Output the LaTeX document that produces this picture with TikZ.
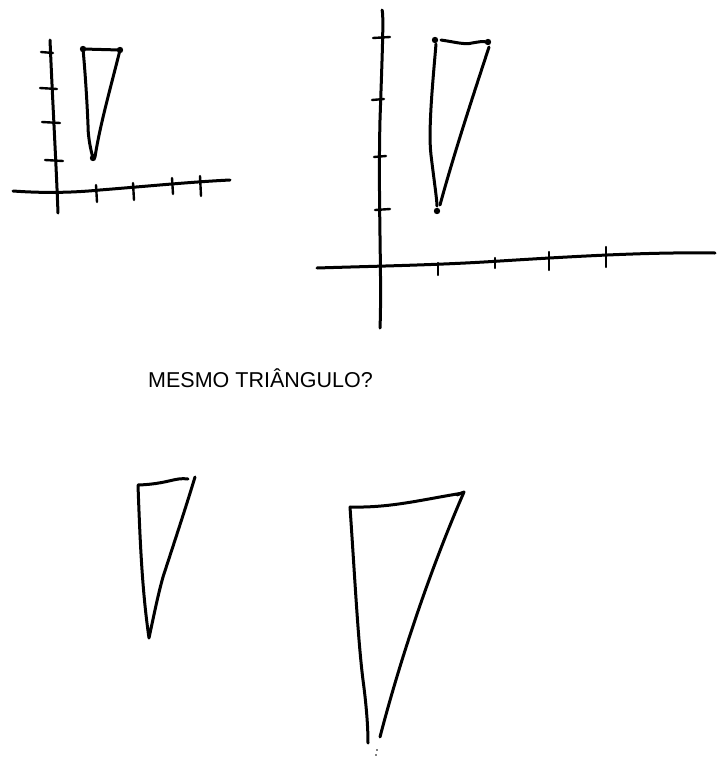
\documentclass[tikz,border=0pt]{standalone}
\usepackage{fontspec}
\setmainfont{Liberation Sans}
\begin{document}
\begin{tikzpicture}[x=1pt,y=-1pt,
  ink/.style={line width=3pt,line cap=round,line join=round},
  thin ink/.style={line width=2.4pt,line cap=round,line join=round},
  vdot/.style={fill=black,radius=3.2pt}]
\useasboundingbox (0,0) rectangle (728,766);
% ---------- small axes ----------
\draw[ink] (50,40) .. controls (53,110) and (56,160) .. (58,213);
\draw[ink] (13,191) .. controls (40,193) and (70,193) .. (100,190) .. controls (150,186) and (190,182) .. (230,180);
\foreach \y/\a/\b in {52/41/53, 88/40/57, 122/42/60, 160/45/63}
  \draw[thin ink] (\a,\y) -- (\b,\y+1);
\foreach \x/\a/\b in {96/185/202, 133/183/200, 172/178/194, 200/176/196}
  \draw[thin ink] (\x,\a) -- (\x+1,\b);
% small triangle
\draw[ink] (83,49) -- (120,50) .. controls (110,90) and (100,125) .. (95,157) -- (93,158)
  .. controls (88,140) and (88,128) .. (88,125) .. controls (87,100) and (85,70) .. (83,49);
\fill[vdot] (83,49) circle;
\fill[vdot] (120,50) circle;
\fill[vdot] (93,158) circle;
% ---------- large axes ----------
\draw[ink] (382,10) .. controls (384,14) and (382,60) .. (380,120) .. controls (378,200) and (382,280) .. (380,328);
\draw[ink] (317,268) .. controls (380,266) and (440,265) .. (500,261) .. controls (580,256) and (650,252) .. (715,253);
\foreach \y/\a/\b in {38/373/390, 100/372/384, 157/374/386, 210/375/390}
  \draw[thin ink] (\a,\y) -- (\b,\y-1);
\foreach \x/\a/\b in {438/263/275, 495/258/268, 549/252/270, 606/247/267}
  \draw[thin ink] (\x,\a) -- (\x,\b);
% large triangle
\draw[ink] (441,40) .. controls (455,42) and (465,45) .. (472,43) .. controls (478,42) and (482,41) .. (487,42);
\draw[ink] (489,47) .. controls (475,90) and (455,150) .. (440,205);
\draw[ink] (436,44) .. controls (433,80) and (428,130) .. (431,155) .. controls (434,180) and (437,200) .. (437,206);
\fill[vdot] (435,40) circle;
\fill[vdot] (488,42) circle;
\fill[vdot] (437,211) circle;
% ---------- question ----------
\node[font=\fontsize{21.5}{25}\selectfont, anchor=base west, inner sep=0pt] (q) at (148,387) {MESMO TRIÂNGULO?};
% ---------- bottom triangles ----------
\draw[ink] (188,479) .. controls (175,477) and (168,484) .. (138,485)
  .. controls (140,540) and (142,590) .. (149,638)
  .. controls (155,610) and (158,595) .. (163,577) .. controls (175,540) and (185,510) .. (195,477);
\draw[ink] (350,507) .. controls (390,508) and (420,500) .. (463,493);
\draw[ink] (350,507) .. controls (355,580) and (358,640) .. (363,680) .. controls (367,710) and (368,730) .. (368,743);
\draw[ink] (464,492) .. controls (430,570) and (400,660) .. (380,737);
\draw[ink] (457,495) -- (464,492);
\fill (377,750) circle (0.9pt);
\fill (376,755) circle (0.9pt);
\end{tikzpicture}
\end{document}
